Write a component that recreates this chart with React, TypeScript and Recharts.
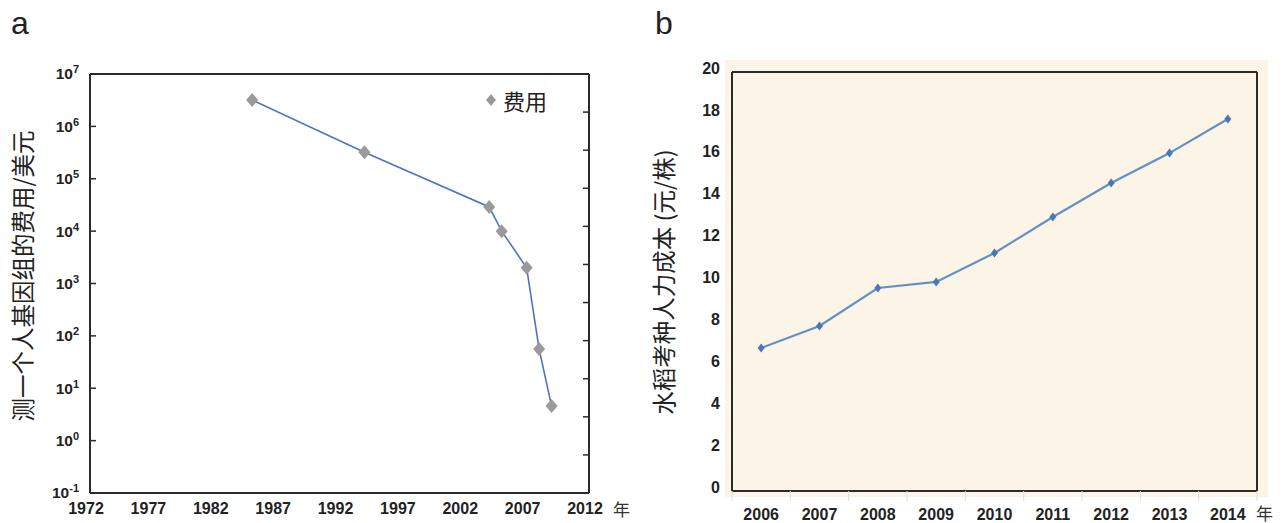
import { LineChart, Line, XAxis, YAxis, ReferenceLine, Legend } from 'recharts';

// panel a: cost of sequencing one human genome (USD, log scale)
const genomeYears = [1985, 1994, 2004, 2005, 2007, 2008, 2009];
const genomeCost = [3.2e6, 3.2e5, 2.9e4, 1.0e4, 2.0e3, 56, 4.6];
const genomeYearTicks = [1972, 1977, 1982, 1987, 1992, 1997, 2002, 2007, 2012];
const genomeCostTicks = [0.1, 1, 10, 100, 1e3, 1e4, 1e5, 1e6, 1e7];
const frameTicks = [1, 2, 3, 4, 5, 6, 7, 8, 9, 10];

// panel b: labour cost of rice phenotyping (yuan per plant)
const riceYears = ['2006', '2007', '2008', '2009', '2010', '2011', '2012', '2013', '2014'];
const riceCost = [6.83, 7.88, 9.69, 9.98, 11.36, 13.08, 14.7, 16.13, 17.76];
const riceTicks = [0, 2, 4, 6, 8, 10, 12, 14, 16, 18, 20];

const genomeData = genomeYears.map((year, i) => ({ year, cost: genomeCost[i] }));
const riceData = riceYears.map((year, i) => ({ year, cost: riceCost[i] }));

const NUM_FONT = '"Liberation Sans", Arial, sans-serif';
const CJK_FONT = '"Noto Sans CJK SC", "Noto Sans", sans-serif';
const FRAME = '#2b2b2b';

function diamond(cx: number, cy: number, w: number, h: number) {
  return `M${cx},${cy - h} L${cx + w},${cy} L${cx},${cy + h} L${cx - w},${cy} Z`;
}

// label sits 11px left of the axis; the small tick points into the plot
function PowerTick({ x, y, payload }: any) {
  const exp = Math.round(Math.log10(payload.value));
  return (
    <g>
      <line x1={x + 11} x2={x + 17} y1={y} y2={y} stroke={FRAME} strokeWidth={1.5} />
      <text x={x} y={y} dy="0.35em" textAnchor="end" fontFamily={NUM_FONT} fontWeight="bold" fontSize={15.5} fill="#222">
        <tspan>10</tspan>
        <tspan dy={-6} fontSize={11}>{exp}</tspan>
      </text>
    </g>
  );
}

function InnerRightTick({ x, y }: any) {
  return <line x1={x - 6} x2={x} y1={y} y2={y} stroke={FRAME} strokeWidth={1.5} />;
}

function RiceYearTick({ x, y, payload }: any) {
  const half = payload.offset || 0;
  const base = y - 18;
  return (
    <g>
      <line x1={x - half} x2={x - half} y1={base} y2={base + 10} stroke="#dcdcdc" />
      {payload.index === riceYears.length - 1 && (
        <line x1={x + half} x2={x + half} y1={base} y2={base + 10} stroke="#dcdcdc" />
      )}
      <text x={x} y={y} dy="0.71em" textAnchor="middle" fontFamily={NUM_FONT} fontWeight="bold" fontSize={16} fill="#222">
        {payload.value}
      </text>
    </g>
  );
}

function verticalTitle(text: string, cx: number, cy: number) {
  return () => (
    <text
      x={cx}
      y={cy}
      transform={`rotate(-90 ${cx} ${cy})`}
      textAnchor="middle"
      dominantBaseline="central"
      fontFamily={CJK_FONT}
      fontSize={23.5}
      fill="#222"
    >
      {text}
    </text>
  );
}

function yearSuffix(dx: number, dy: number) {
  return ({ viewBox }: any) => (
    <text x={viewBox.x + viewBox.width + dx} y={viewBox.y + dy} dominantBaseline="central" fontFamily={CJK_FONT} fontSize={17} fill="#333">
      年
    </text>
  );
}

function GenomeLegend() {
  return (
    <div style={{ display: 'flex', alignItems: 'center', fontFamily: CJK_FONT, fontSize: 22, color: '#222' }}>
      <svg width={14} height={14} style={{ marginRight: 5 }}>
        <path d={diamond(7, 7, 5, 6)} fill="#9a9a9a" />
      </svg>
      费用
    </div>
  );
}

export default function App() {
  return (
    <div style={{ position: 'absolute', left: 0, top: 0, width: 1282, height: 523, background: '#fff' }}>
      <div style={{ position: 'absolute', left: 11, top: 5, fontFamily: NUM_FONT, fontSize: 32, color: '#222' }}>a</div>
      <div style={{ position: 'absolute', left: 655, top: 5, fontFamily: NUM_FONT, fontSize: 32, color: '#222' }}>b</div>

      <div style={{ position: 'absolute', left: 0, top: 0 }}>
        <LineChart width={640} height={523} data={genomeData} margin={{ top: 74, right: 50, bottom: 0, left: 40 }}>
          <XAxis
            dataKey="year"
            type="number"
            domain={[1972, 2012]}
            ticks={genomeYearTicks}
            interval={0}
            tickLine={false}
            tickSize={0}
            tickMargin={10}
            height={30}
            axisLine={{ stroke: FRAME, strokeWidth: 2 }}
            tick={{ fontFamily: NUM_FONT, fontWeight: 'bold', fontSize: 16, fill: '#222', dx: -4 }}
            label={{ content: yearSuffix(24, 15) }}
          />
          <YAxis
            dataKey="cost"
            type="number"
            scale="log"
            domain={[0.1, 1e7]}
            ticks={genomeCostTicks}
            interval={0}
            allowDataOverflow
            width={50}
            tickSize={0}
            tickMargin={11}
            tickLine={false}
            axisLine={{ stroke: FRAME, strokeWidth: 2 }}
            tick={<PowerTick />}
            label={{ content: verticalTitle('测一个人基因组的费用/美元', 22, 276) }}
          />
          <YAxis
            yAxisId="frame"
            orientation="right"
            type="number"
            domain={[0, 11]}
            ticks={frameTicks}
            interval={0}
            allowDataOverflow
            width={1}
            tickSize={0}
            tickMargin={0}
            tickLine={false}
            tick={<InnerRightTick />}
            axisLine={{ stroke: FRAME, strokeWidth: 2 }}
          />
          <ReferenceLine y={1e7} stroke={FRAME} strokeWidth={2} />
          <Legend
            verticalAlign="middle"
            align="center"
            layout="horizontal"
            wrapperStyle={{ position: 'absolute', top: 84, left: 484, width: 90, height: 28 }}
            content={() => <GenomeLegend />}
          />
          {/* empty series so the right frame axis gets a scale */}
          <Line
            yAxisId="frame"
            dataKey={() => null}
            stroke="none"
            dot={false}
            activeDot={false}
            legendType="none"
            isAnimationActive={false}
          />
          <Line
            dataKey="cost"
            stroke="none"
            isAnimationActive={false}
            legendType="none"
            dot={(p: any) => <path key={`m${p.index}`} d={diamond(p.cx, p.cy, 6, 7)} fill="#9a9a9a" />}
            activeDot={false}
          />
          <Line
            dataKey="cost"
            type="linear"
            stroke="#4d73c2"
            strokeWidth={1.6}
            dot={false}
            activeDot={false}
            isAnimationActive={false}
          />
        </LineChart>
      </div>

      <div style={{ position: 'absolute', left: 725, top: 60, width: 543, height: 437, background: '#fcf4e7' }} />

      <div style={{ position: 'absolute', left: 640, top: 0 }}>
        <LineChart width={642} height={523} data={riceData} margin={{ top: 72, right: 24, bottom: 0, left: 52 }}>
          <XAxis
            dataKey="year"
            type="category"
            scale="band"
            interval={0}
            height={32}
            tickLine={false}
            tickSize={0}
            tickMargin={18}
            axisLine={{ stroke: FRAME, strokeWidth: 2 }}
            tick={<RiceYearTick />}
            label={{ content: yearSuffix(-1, 21) }}
          />
          <YAxis
            type="number"
            domain={[0, 20]}
            ticks={riceTicks}
            interval={0}
            width={40}
            tickLine={false}
            tickSize={0}
            tickMargin={12}
            axisLine={{ stroke: FRAME, strokeWidth: 2 }}
            tick={{ fontFamily: NUM_FONT, fontWeight: 'bold', fontSize: 16, fill: '#222', dy: -4 }}
            label={{ content: verticalTitle('水稻考种人力成本 (元/株)', 23, 282) }}
          />
          <YAxis
            yAxisId="frame"
            orientation="right"
            type="number"
            domain={[0, 1]}
            width={1}
            tick={false}
            tickLine={false}
            axisLine={{ stroke: FRAME, strokeWidth: 2 }}
          />
          <ReferenceLine y={20} stroke={FRAME} strokeWidth={2} />
          <Line
            dataKey="cost"
            type="linear"
            stroke="#6490c8"
            strokeWidth={2.2}
            isAnimationActive={false}
            dot={(p: any) => <path key={`r${p.index}`} d={diamond(p.cx, p.cy, 3.5, 4.5)} fill="#4a78b6" />}
            activeDot={false}
          />
        </LineChart>
      </div>
    </div>
  );
}
